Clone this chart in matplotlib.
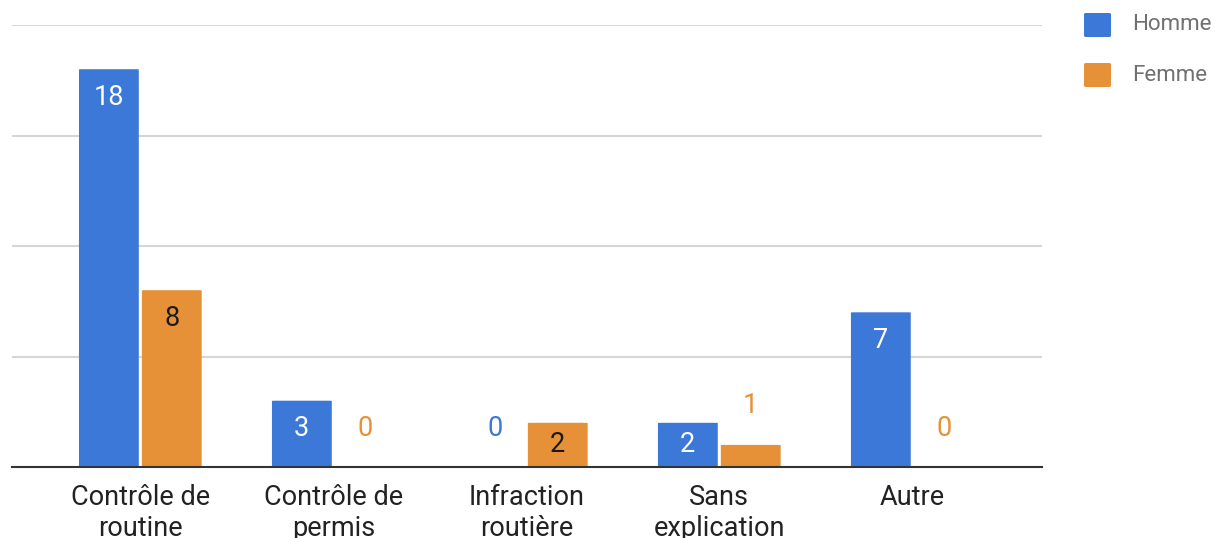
import numpy as np
import matplotlib.pyplot as plt
from matplotlib.patches import FancyBboxPatch

plt.rcParams['font.family'] = ['Roboto', 'DejaVu Sans']

categories = ['Contrôle de\nroutine', 'Contrôle de\npermis', 'Infraction\nroutière',
              'Sans\nexplication', 'Autre']
homme = [18, 3, 0, 2, 7]
femme = [8, 0, 2, 1, 0]
series = ['Homme', 'Femme']

blue = '#3c78d8'
orange = '#e69138'

fig = plt.figure(figsize=(12.29, 5.38), dpi=100)
ax = fig.add_axes([12 / 1229, 71 / 538, 1030 / 1229, 442 / 538])

x = np.arange(len(categories))
w = 0.31
gap = 0.008

def rounded_bars(xs, vals, color):
    for xi, v in zip(xs, vals):
        if v <= 0:
            continue
        p = FancyBboxPatch((xi - w / 2, 0), w, v,
                           boxstyle='round,pad=0,rounding_size=0.02',
                           mutation_aspect=0.4, fc=color, ec='none', zorder=3)
        ax.add_patch(p)

rounded_bars(x - w / 2 - gap, homme, blue)
rounded_bars(x + w / 2 + gap, femme, orange)

# one data unit = 22.1 px in this layout
px = 442 / 20

def value_labels(xs, vals, color, inner_color):
    for xi, v in zip(xs, vals):
        h = v * px
        if h >= 40:
            off = -min(28, h / 2)
            c = inner_color
        else:
            off = 39
            c = color
        ax.annotate(str(v), (xi, v), xytext=(0, off), textcoords='offset pixels',
                    ha='center', va='center', fontsize=19.5, color=c, zorder=4)

value_labels(x - w / 2 - gap, homme, blue, 'white')
value_labels(x + w / 2 + gap, femme, orange, '#1a1a1a')

ax.set_xlim(-0.665, 4.672)
ax.set_ylim(0, 20)
ax.set_yticks([5, 10, 15, 20])
ax.yaxis.grid(True, color='#d6d6d6', linewidth=1.5)
ax.set_axisbelow(True)
ax.tick_params(axis='y', left=False, labelleft=False)
ax.set_xticks(x)
ax.set_xticklabels(categories, fontsize=19.5, color='#222222', linespacing=1.2)
ax.tick_params(axis='x', length=0, pad=12)
for s in ['top', 'right', 'left']:
    ax.spines[s].set_visible(False)
ax.spines['bottom'].set_color('#333333')
ax.spines['bottom'].set_linewidth(1.5)
ax.spines['bottom'].set_zorder(5)

# legend at the right
for i, (name, col) in enumerate(zip(series, [blue, orange])):
    yc = 1 - (25 + 50 * i) / 538
    fig.patches.append(FancyBboxPatch((1084 / 1229, yc - 12 / 538), 27 / 1229, 24 / 538,
                                      boxstyle='round,pad=0,rounding_size=0.002',
                                      transform=fig.transFigure, fc=col, ec='none'))
    fig.text(1132 / 1229, yc, name, fontsize=16, color='#707070', va='center', ha='left')

fig.savefig('out.png', dpi=100)
